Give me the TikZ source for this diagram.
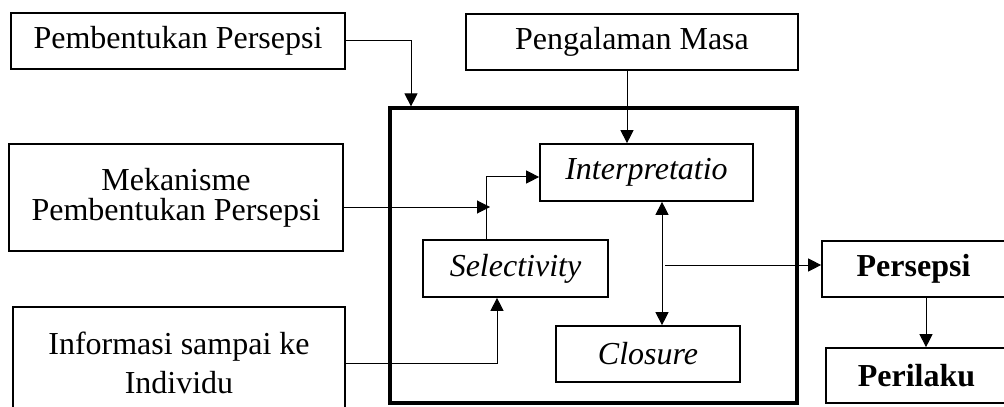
\documentclass[tikz,border=0pt]{standalone}
\usepackage{fontspec}
\setmainfont{Liberation Serif}
\usetikzlibrary{arrows.meta}

\begin{document}
\begin{tikzpicture}[x=0.5pt,y=-0.5pt]
        \tikzstyle{every node}=[font=\fontsize{16}{19}\selectfont]
        \tikzstyle{box}=[draw,line width=0.85pt,inner sep=0pt,align=center]
        \tikzstyle{frame}=[draw,line width=1.6pt,inner sep=0pt]
        \tikzstyle{arr}=[line width=0.5pt,-{Triangle[length=6.5pt,width=6.5pt]}]
        \tikzstyle{arrs}=[line width=0.5pt,{Triangle[length=6.5pt,width=6.5pt]}-{Triangle[length=6.5pt,width=6.5pt]}]

        \useasboundingbox (0,0) rectangle (1004,406);
        \clip (0,0) rectangle (1004,406);

        % outer frame
        \node [frame,minimum width=203.5pt,minimum height=147.5pt] (big) at (593.5,255.5) {};

        % input boxes
        \node [box,minimum width=167pt,minimum height=28pt] (pembentukan) at (178,41) {Pembentukan Persepsi};
        \node [box,minimum width=166pt,minimum height=28pt] (pengalaman) at (632,42) {Pengalaman Masa};
        \node [box,minimum width=167pt,minimum height=53.5pt,font=\fontsize{16}{15}\selectfont] (mekanisme) at (176,197.5) {Mekanisme\\Pembentukan Persepsi};
        \node [box,minimum width=166pt,minimum height=56pt,font=\fontsize{16}{19.5}\selectfont] (informasi) at (179,363) {Informasi sampai ke\\Individu};

        % inside the frame
        \node [box,minimum width=106.5pt,minimum height=28.5pt] (interp) at (646.5,172.5) {\itshape Interpretatio};
        \node [box,minimum width=92.5pt,minimum height=28.5pt] (select) at (515.5,268.5) {\itshape Selectivity};
        \node [box,minimum width=92pt,minimum height=28pt] (closure) at (648,354) {\itshape Closure};

        % output boxes
        \node [box,minimum width=91.5pt,minimum height=28pt] (persepsi) at (913.5,269) {\bfseries Persepsi};
        \node [box,minimum width=90.5pt,minimum height=27.5pt] (perilaku) at (916.5,375.5) {\bfseries Perilaku};

        \coordinate (c1) at (411,41);
        \coordinate (c2) at (627,0);
        \coordinate (c3) at (490,207);
        \coordinate (c4) at (486,177);
        \coordinate (c5) at (497,363);
        \coordinate (c6) at (662,0);
        \coordinate (c7) at (665,265);
        \coordinate (c8) at (926,0);

        \draw[arr] (pembentukan.east) -| (c1 |- big.north);        % pembentukan -> frame
        \draw[arr] (c2 |- pengalaman.south) -- (c2 |- interp.north); % pengalaman -> interp
        \draw[arr] (c3 -| mekanisme.east) -- (c3);                   % mekanisme -> line
        \draw[arr] (c4 |- select.north) |- (c4 -| interp.west);      % select -> interp
        \draw[arr] (c5 -| informasi.east) -| (c5 |- select.south);   % informasi -> select
        \draw[arrs] (c6 |- interp.south) -- (c6 |- closure.north);   % interp <-> closure
        \draw[arr] (c7) -- (c7 -| persepsi.west);                    % line -> persepsi
        \draw[arr] (c8 |- persepsi.south) -- (c8 |- perilaku.north); % persepsi -> perilaku

\end{tikzpicture}
\end{document}
